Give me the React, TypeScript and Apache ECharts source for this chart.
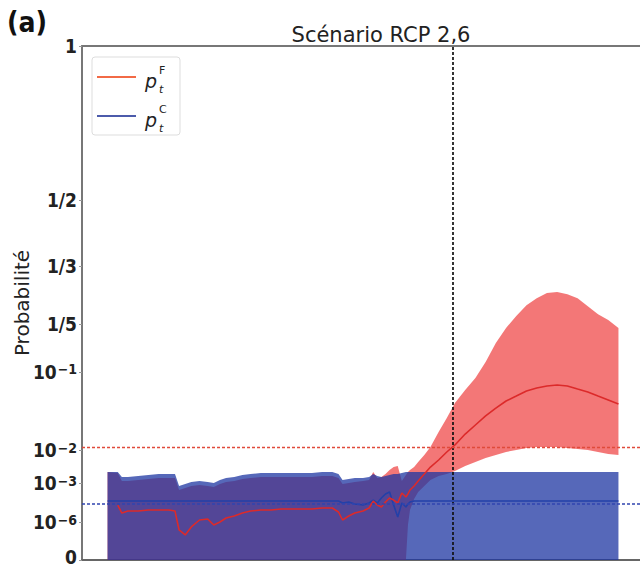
import React, { useEffect, useRef } from "react";
import * as echarts from "echarts";

// Years of the simulated series (1850–2100)
const YEARS = [
  1850, 1855, 1857, 1860, 1865, 1870, 1875, 1880, 1883, 1885,
  1888, 1891, 1895, 1899, 1902, 1905, 1908, 1912, 1916, 1920,
  1925, 1930, 1935, 1940, 1945, 1950, 1955, 1960, 1963, 1965,
  1968, 1971, 1975, 1978, 1980, 1982, 1984, 1986, 1988, 1990,
  1992, 1994, 1996, 1997, 1998, 2000, 2002, 2005, 2008, 2012,
  2016, 2020, 2025, 2030, 2035, 2040, 2045, 2050, 2055, 2060,
  2065, 2070, 2075, 2080, 2085, 2090, 2095, 2100,
];

// p_t^F : factual probability, median and uncertainty band
const RED_LOW = [
  0, 0, 0, 0, 0, 0, 0, 0, 0, 0,
  0, 0, 0, 0, 0, 0, 0, 0, 0, 0,
  0, 0, 0, 0, 0, 0, 0, 0, 0, 0,
  0, 0, 0, 0, 0, 0, 0, 0, 0, 0,
  0, 0, 0, 9.2e-7, 8.4e-6, 5.9e-5, 2.03e-4, 5.9e-4, 1.23e-3, 1.63e-3,
  1.87e-3, 2.31e-3, 3.27e-3, 4.33e-3, 5.73e-3, 7.05e-3, 8.7e-3, 1.0e-2, 1.06e-2, 1.09e-2,
  1.09e-2, 1.09e-2, 1.06e-2, 1.03e-2, 1.0e-2, 8.7e-3, 7.6e-3, 7.05e-3,
];
const RED_MID = [
  null, 2.03e-5, 4.9e-6, 7.0e-6, 7.0e-6, 8.4e-6, 8.4e-6, 8.4e-6, 7.0e-6, 7.9e-7,
  6.6e-7, 8.7e-7, 1.43e-6, 1.7e-6, 9.2e-7, 1.0e-6, 2.03e-6, 2.9e-6, 4.9e-6, 7.0e-6,
  8.4e-6, 8.4e-6, 1.0e-5, 1.0e-5, 1.0e-5, 1.0e-5, 1.19e-5, 1.19e-5, 5.9e-6, 1.43e-6,
  2.9e-6, 4.9e-6, 7.0e-6, 1.19e-5, 4.1e-5, 2.03e-5, 1.43e-5, 3.45e-5, 7.0e-5, 4.9e-5,
  2.9e-5, 1.7e-4, 8.4e-5, 1.43e-4, 2.9e-4, 5.9e-4, 1.15e-3, 1.87e-3, 3.05e-3, 4.98e-3,
  8.7e-3, 1.16e-2, 1.6e-2, 2.09e-2, 2.73e-2, 3.45e-2, 4.25e-2, 4.92e-2, 5.71e-2, 6.23e-2,
  6.62e-2, 6.81e-2, 6.62e-2, 6.05e-2, 5.55e-2, 4.92e-2, 4.38e-2, 3.89e-2,
];
const RED_HIGH = [
  2.15e-3, 2.01e-3, 1.15e-3, 1.15e-3, 1.23e-3, 1.32e-3, 1.42e-3, 1.42e-3, 1.42e-3, 2.9e-4,
  4.1e-4, 5.9e-4, 7.0e-4, 5.9e-4, 4.9e-4, 8.4e-4, 1.07e-3, 1.15e-3, 1.32e-3, 1.42e-3,
  1.52e-3, 1.52e-3, 1.52e-3, 1.52e-3, 1.52e-3, 1.52e-3, 1.63e-3, 1.63e-3, 1.42e-3, 8.4e-4,
  1.0e-3, 1.07e-3, 1.15e-3, 1.23e-3, 2.15e-3, 1.42e-3, 1.52e-3, 1.87e-3, 2.48e-3, 3.05e-3,
  3.27e-3, 1.15e-3, 1.75e-3, 2.15e-3, 2.48e-3, 3.05e-3, 4.33e-3, 7.05e-3, 1.09e-2, 1.7e-2,
  2.57e-2, 4.0e-2, 5.88e-2, 8.37e-2, 0.1155, 0.152, 0.189, 0.2146, 0.236, 0.251,
  0.263, 0.265, 0.26, 0.251, 0.234, 0.218, 0.207, 0.189,
];

// p_t^C : counterfactual probability (band lower bound is 0 throughout)
const BLUE_MID = [
  4.1e-5, 4.1e-5, 4.1e-5, 4.1e-5, 4.1e-5, 4.1e-5, 4.1e-5, 4.1e-5, 4.1e-5, 4.1e-5,
  4.1e-5, 4.1e-5, 4.1e-5, 4.1e-5, 4.1e-5, 4.1e-5, 4.1e-5, 4.1e-5, 4.1e-5, 4.1e-5,
  4.1e-5, 4.1e-5, 4.1e-5, 4.1e-5, 4.1e-5, 4.1e-5, 4.1e-5, 4.1e-5, 4.1e-5, 2.9e-5,
  3.45e-5, 2.43e-5, 2.03e-5, 2.9e-5, 4.9e-5, 2.9e-5, 7.0e-5, 1.43e-4, 2.03e-4, 2.03e-5,
  2.43e-6, 2.9e-5, 1.43e-5, 2.43e-5, 3.45e-5, 4.1e-5, 4.1e-5, 4.1e-5, 4.1e-5, 4.1e-5,
  4.1e-5, 4.1e-5, 4.1e-5, 4.1e-5, 4.1e-5, 4.1e-5, 4.1e-5, 4.1e-5, 4.1e-5, 4.1e-5,
  4.1e-5, 4.1e-5, 4.1e-5, 4.1e-5, 4.1e-5, 4.1e-5, 4.1e-5, 4.1e-5,
];
const BLUE_HIGH = [
  2.15e-3, 2.15e-3, 1.52e-3, 1.52e-3, 1.63e-3, 1.75e-3, 1.87e-3, 1.87e-3, 1.87e-3, 5.9e-4,
  8.4e-4, 1.07e-3, 1.15e-3, 1.07e-3, 1.0e-3, 1.23e-3, 1.42e-3, 1.52e-3, 1.75e-3, 1.87e-3,
  2.01e-3, 2.01e-3, 2.01e-3, 2.01e-3, 2.01e-3, 2.01e-3, 2.15e-3, 2.15e-3, 1.87e-3, 1.23e-3,
  1.32e-3, 1.42e-3, 1.42e-3, 1.52e-3, 1.87e-3, 1.63e-3, 1.52e-3, 1.63e-3, 1.75e-3, 1.87e-3,
  1.87e-3, 2.01e-3, 2.15e-3, 2.15e-3, 2.15e-3, 2.15e-3, 2.15e-3, 2.15e-3, 2.15e-3, 2.15e-3,
  2.15e-3, 2.15e-3, 2.15e-3, 2.15e-3, 2.15e-3, 2.15e-3, 2.15e-3, 2.15e-3, 2.15e-3, 2.15e-3,
  2.15e-3, 2.15e-3, 2.15e-3, 2.15e-3, 2.15e-3, 2.15e-3, 2.15e-3, 2.15e-3,
];

// Reference levels
const THRESHOLD_F = 1.16e-2;
const THRESHOLD_C = 4.1e-5;
const PRESENT_YEAR = 2019;
const YEAR_MIN = 1837.5;
const YEAR_MAX = 2112.5;

// Probability axis: tick probabilities, their labels, and their relative
// positions along the axis (the axis is piecewise logarithmic between ticks)
const PROB_TICKS = [0, 1e-6, 1e-3, 1e-2, 1e-1, 1 / 5, 1 / 3, 1 / 2, 1];
const TICK_LABELS = [
  "{z|0}",
  "{b|10}{s|\u22126}",
  "{b|10}{s|\u22123}",
  "{b|10}{s|\u22122}",
  "{b|10}{s|\u22121}",
  "1/5",
  "1/3",
  "1/2",
  "1",
];
const TICK_POS = [0, 0.0739, 0.1498, 0.214, 0.3658, 0.4591, 0.572, 0.7004, 1];

function toAxis(p: number | null): number | null {
  if (p == null) return null;
  if (p <= 0) return 0;
  if (p <= PROB_TICKS[1]) return (TICK_POS[1] * p) / PROB_TICKS[1];
  for (let i = 1; i < PROB_TICKS.length - 1; i++) {
    if (p <= PROB_TICKS[i + 1]) {
      const a = Math.log10(PROB_TICKS[i]);
      const b = Math.log10(PROB_TICKS[i + 1]);
      return TICK_POS[i] + ((TICK_POS[i + 1] - TICK_POS[i]) * (Math.log10(p) - a)) / (b - a);
    }
  }
  return 1;
}

// Fractional year -> timestamp for the time axis
const YEAR_MS = 365.2425 * 86400000;
const yearToTime = (y: number) => (y - 1970) * YEAR_MS;

const COND = "'DejaVu Sans Condensed', 'DejaVu Sans', sans-serif";
const SANS = "'DejaVu Sans', sans-serif";

export default function App() {
  const ref = useRef<HTMLDivElement>(null);

  useEffect(() => {
    document.body.style.margin = "0";
    if (!ref.current) return;
    const chart = echarts.init(ref.current, null, { renderer: "svg" });

    const t = YEARS.map(yearToTime);
    const redBase = t.map((x, i) => [x, toAxis(RED_LOW[i])]);
    const redBand = t.map((x, i) => [x, (toAxis(RED_HIGH[i]) as number) - (toAxis(RED_LOW[i]) as number)]);
    const blueBand = t.map((x, i) => [x, toAxis(BLUE_HIGH[i])]);
    const redMid = t.map((x, i) => [x, toAxis(RED_MID[i])]);
    const blueMid = t.map((x, i) => [x, toAxis(BLUE_MID[i])]);

    const legendEntry = (y: number, color: string, sup: string) => [
      { type: "line", shape: { x1: 97, y1: y, x2: 136, y2: y }, style: { stroke: color, lineWidth: 2 } },
      { type: "text", x: 145, y: y + 4, style: { text: "p", font: `italic 19px ${SANS}`, fill: "#222", verticalAlign: "middle" } },
      { type: "text", x: 159, y: y - 7, style: { text: sup, font: `11px ${SANS}`, fill: "#222", verticalAlign: "middle" } },
      { type: "text", x: 159, y: y + 12, style: { text: "t", font: `italic 11px ${SANS}`, fill: "#222", verticalAlign: "middle" } },
    ];

    const hiddenX = {
      type: "time",
      min: yearToTime(YEAR_MIN),
      max: yearToTime(YEAR_MAX),
      axisTick: { show: false },
      axisLabel: { show: false },
      splitLine: { show: false },
    };

    const labelFont = { fontFamily: COND, fontWeight: "bold", color: "#222" };

    chart.setOption({
      animation: false,
      backgroundColor: "#fff",
      title: {
        text: "Scénario RCP 2,6",
        left: 376,
        top: 19,
        textAlign: "center",
        textStyle: { fontFamily: SANS, fontSize: 21, fontWeight: "normal", color: "#222" },
      },
      grid: { left: 82, right: -4, top: 46, bottom: 9, outerBoundsMode: "none" },
      xAxis: [
        { ...hiddenX, axisLine: { show: true, lineStyle: { color: "#666", width: 2 } } },
        { ...hiddenX, position: "top", axisLine: { show: true, lineStyle: { color: "#777", width: 2 } } },
      ],
      yAxis: {
        type: "value",
        min: 0,
        max: 1,
        name: "Probabilité",
        nameLocation: "middle",
        nameGap: 50,
        nameMoveOverlap: false,
        nameTextStyle: { fontFamily: SANS, fontSize: 20, color: "#222" },
        axisLine: { show: true, lineStyle: { color: "#777", width: 2 } },
        axisTick: { show: true, customValues: TICK_POS, length: 3, lineStyle: { color: "#999" } },
        splitLine: { show: false },
        axisLabel: {
          customValues: TICK_POS,
          margin: 5,
          fontSize: 19,
          lineHeight: 16,
          ...labelFont,
          formatter: (v: number) => {
            let best = 0;
            TICK_POS.forEach((p, i) => {
              if (Math.abs(p - v) < Math.abs(TICK_POS[best] - v)) best = i;
            });
            return TICK_LABELS[best];
          },
          rich: {
            z: { ...labelFont, fontSize: 19, lineHeight: 16, padding: [0, 0, 6, 0] },
            b: { ...labelFont, fontSize: 19, verticalAlign: "bottom", lineHeight: 19 },
            s: { ...labelFont, fontSize: 14, verticalAlign: "top", lineHeight: 14, padding: [0, 0, 12, 1] },
          },
        },
      },
      series: [
        {
          name: "redBase",
          type: "line",
          stack: "F",
          data: redBase,
          symbol: "none",
          silent: true,
          lineStyle: { width: 0, opacity: 0 },
        },
        {
          name: "redBand",
          type: "line",
          stack: "F",
          data: redBand,
          symbol: "none",
          silent: true,
          lineStyle: { width: 0, opacity: 0 },
          areaStyle: { color: "#ec2424", opacity: 0.62 },
        },
        {
          name: "blueBand",
          type: "line",
          data: blueBand,
          symbol: "none",
          silent: true,
          lineStyle: { width: 0, opacity: 0 },
          areaStyle: { color: "rgb(29,53,161)", opacity: 0.75 },
        },
        {
          name: "pC",
          type: "line",
          data: blueMid,
          symbol: "none",
          silent: true,
          lineStyle: { color: "#2340a8", width: 1.6 },
        },
        {
          name: "pF",
          type: "line",
          data: redMid,
          symbol: "none",
          silent: true,
          connectNulls: false,
          lineStyle: { color: "#dc2a2a", width: 1.6 },
          markLine: {
            silent: true,
            symbol: "none",
            label: { show: false },
            data: [
              { xAxis: yearToTime(PRESENT_YEAR), lineStyle: { color: "#111", width: 1.7, type: [3, 2] } },
              { yAxis: toAxis(THRESHOLD_F), lineStyle: { color: "#e04a3a", width: 1.3, type: [3, 2] } },
              { yAxis: toAxis(THRESHOLD_C), lineStyle: { color: "#3044b0", width: 1.7, type: [3, 2] } },
            ],
          },
        },
      ],
      graphic: [
        {
          type: "text",
          left: 7,
          top: 8,
          style: { text: "(a)", font: `bold 28px ${COND}`, fill: "#111" },
        },
        {
          type: "group",
          children: [
            {
              type: "rect",
              shape: { x: 92, y: 57, width: 88, height: 78, r: 3 },
              style: { fill: "rgba(255,255,255,0.9)", stroke: "#ddd", lineWidth: 1 },
            },
            ...legendEntry(77, "#f26a46", "F"),
            ...legendEntry(116, "#4c5bab", "C"),
          ],
        },
      ],
    });

    return () => chart.dispose();
  }, []);

  return <div ref={ref} style={{ position: "absolute", left: 0, top: 0, width: 640, height: 569 }} />;
}
